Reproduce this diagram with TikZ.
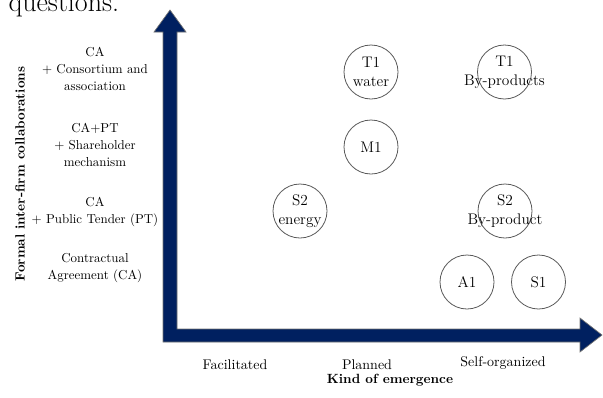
\documentclass[tikz,border=0pt]{standalone}
\definecolor{navy}{RGB}{0,32,96}
\begin{document}
\begin{tikzpicture}[
	x=0.75pt,
	y=-0.75pt,
	line join=miter,
	every node/.style={align=center, text=black},
	bubble/.style={
		shape=circle,
		minimum size=40.5pt,
		inner sep=0pt,
		draw=black!65,
		line width=0.6pt,
		label={[font=\fontsize{11.5}{14.25}\selectfont, align=center, text=black]center:#1}
	},
	level/.style={font=\fontsize{9.7}{12.75}\selectfont},
	kind/.style={font=\fontsize{10.5}{12}\selectfont},
	axistitle/.style={font=\fontsize{10}{12}\selectfont\bfseries}
	]
	\useasboundingbox (0,0) rectangle (603,397);
	\clip (0,0) rectangle (603,397);
	% line of the page above the figure
	\node [anchor=base west, font=\fontsize{21}{25}\selectfont] (prevline) at (4,11) {questions.};
	% the two axes as one L-shaped arrow
	\draw [draw=black!55, line width=0.5pt, fill=navy]
	(163,342) -- (163,32) -- (154,32) -- (170,10) -- (186,32) -- (177,32)
	-- (177,329) -- (580,329) -- (580,318) -- (602,335) -- (580,352) -- (580,342) -- cycle;
	\foreach \lvl/\y [count=\i] in
	{{CA\\+ Consortium and\\association}/69, {CA+PT\\+ Shareholder\\mechanism}/145,
	{CA\\+ Public Tender (PT)}/212, {Contractual\\Agreement (CA)}/268}{
		\node [level] (level\i) at (95,\y) {\lvl};
	}
	\foreach \kindname/\x/\y [count=\i] in {Facilitated/235/365, Planned/367/365, Self-organized/503/363}{
		\node [kind] (kind\i) at (\x,\y) {\kindname};
	}
	\node [axistitle] (xtitle) at (390,380) {Kind of emergence};
	\node [axistitle, rotate=90] (ytitle) at (20,174) {Formal inter-firm collaborations};
	% cases
	\node [bubble={T1\\water}] (t1water) at (371,72) {};
	\node [bubble={T1\\By-products}] (t1byprod) at (504.5,72) {};
	\node [bubble=M1] (m1) at (371,147) {};
	\node [bubble={S2\\energy}] (s2energy) at (300,211) {};
	\node [bubble={S2\\By-product}] (s2byprod) at (505,211) {};
	\node [bubble=A1] (a1) at (467,282) {};
	\node [bubble=S1] (s1) at (538.5,282) {};
\end{tikzpicture}
\end{document}
